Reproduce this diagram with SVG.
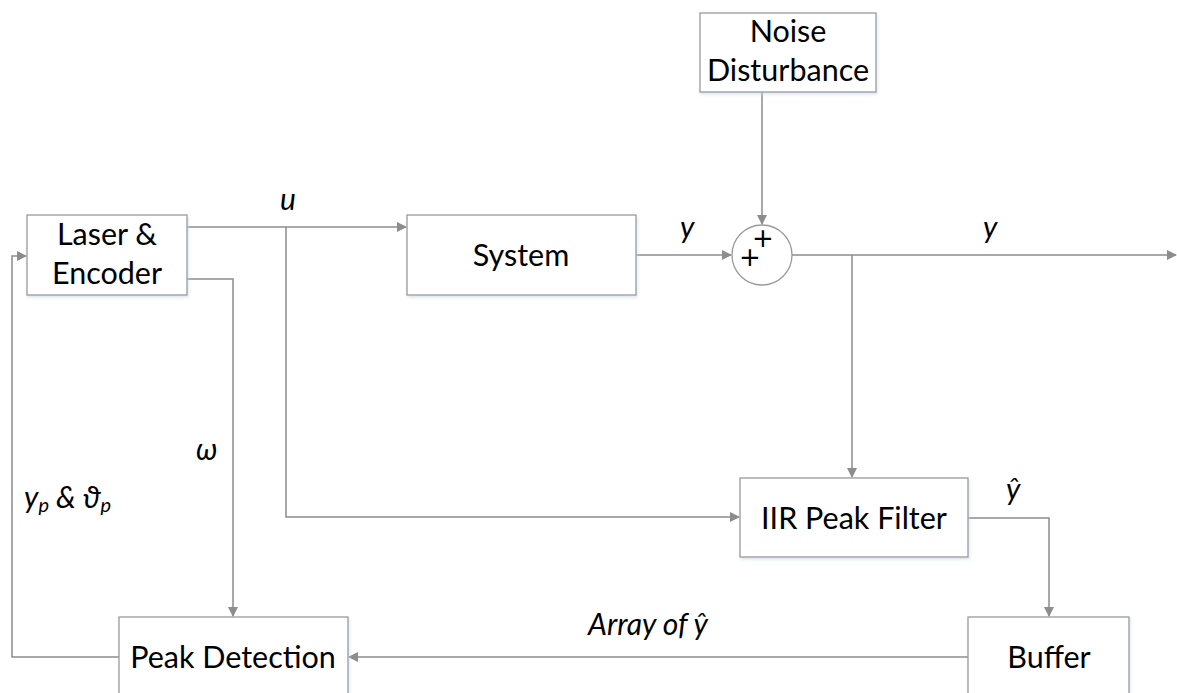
<svg xmlns="http://www.w3.org/2000/svg" width="1177" height="693" viewBox="0 0 1177 693">
  <style>
    .box { fill: #ffffff; stroke: #9a9a9a; stroke-width: 1.3; }
    .wire { fill: none; stroke: #8c8c8c; stroke-width: 1.5; }
    .lbl { font-family: Lato, "Open Sans", sans-serif; font-size: 30.5px; fill: #000; text-anchor: middle; }
    .sig { font-family: Lato, "Open Sans", sans-serif; font-size: 30px; font-style: italic; fill: #000; }
    .sub { font-size: 20px; }
    .plus { font-family: "DejaVu Sans", sans-serif; font-size: 26px; fill: #000; text-anchor: middle; }
  </style>
  <defs>
    <marker id="arr" markerWidth="10" markerHeight="10" refX="9" refY="5" orient="auto" markerUnits="userSpaceOnUse">
      <path d="M0,0 L10,5 L0,10 Z" fill="#8c8c8c"/>
    </marker>
    <filter id="shadow" x="-5%" y="-5%" width="110%" height="120%">
      <feDropShadow dx="1" dy="2" stdDeviation="1.5" flood-color="#c8d4e8" flood-opacity="0.6"/>
    </filter>
  </defs>

  <g id="connectors">
    <!-- laser -> system (u) -->
    <path class="wire" d="M187,227 H406" marker-end="url(#arr)"/>
    <!-- u branch -> IIR filter -->
    <path class="wire" d="M286,227 V517 H739" marker-end="url(#arr)"/>
    <!-- system -> summing junction -->
    <path class="wire" d="M636,255 H731" marker-end="url(#arr)"/>
    <!-- noise -> summing junction -->
    <path class="wire" d="M762,92 V224" marker-end="url(#arr)"/>
    <!-- junction -> output -->
    <path class="wire" d="M792,255 H1176" marker-end="url(#arr)"/>
    <!-- output branch -> IIR filter -->
    <path class="wire" d="M852,255 V477" marker-end="url(#arr)"/>
    <!-- IIR filter -> buffer -->
    <path class="wire" d="M968,518 H1049 V616" marker-end="url(#arr)"/>
    <!-- buffer -> peak detection -->
    <path class="wire" d="M968,657 H349" marker-end="url(#arr)"/>
    <!-- encoder omega -> peak detection -->
    <path class="wire" d="M187,279 H233 V616" marker-end="url(#arr)"/>
    <!-- peak detection feedback -> laser -->
    <path class="wire" d="M119,657 H12 V256 H26" marker-end="url(#arr)"/>
  </g>

  <g id="laser-encoder">
    <rect class="box" x="27" y="215" width="160" height="80" filter="url(#shadow)"/>
    <text class="lbl" x="107" y="245">Laser &amp;</text>
    <text class="lbl" x="107" y="284">Encoder</text>
  </g>

  <g id="system">
    <rect class="box" x="407" y="215" width="229" height="80" filter="url(#shadow)"/>
    <text class="lbl" x="521" y="266">System</text>
  </g>

  <g id="noise-disturbance">
    <rect class="box" x="700" y="13" width="176" height="79" filter="url(#shadow)"/>
    <text class="lbl" x="788" y="42">Noise</text>
    <text class="lbl" x="788" y="81">Disturbance</text>
  </g>

  <g id="summing-junction">
    <circle cx="762" cy="255" r="30" fill="#ffffff" stroke="#9a9a9a" stroke-width="1.3"/>
    <text class="plus"><tspan x="763" y="247">+</tspan><tspan x="750" y="266">+</tspan></text>
  </g>

  <g id="iir-peak-filter">
    <rect class="box" x="740" y="478" width="228" height="79" filter="url(#shadow)"/>
    <text class="lbl" x="854" y="529">IIR Peak Filter</text>
  </g>

  <g id="buffer">
    <rect class="box" x="968" y="617" width="161" height="90" filter="url(#shadow)"/>
    <text class="lbl" x="1049" y="668">Buffer</text>
  </g>

  <g id="peak-detection">
    <rect class="box" x="119" y="617" width="229" height="90" filter="url(#shadow)"/>
    <text class="lbl" x="233" y="668">Peak Detection</text>
  </g>

  <g id="signal-labels">
    <text class="sig" x="280" y="210">u</text>
    <text class="sig" x="680" y="238">y</text>
    <text class="sig" x="983" y="238">y</text>
    <text class="sig" x="196" y="460">ω</text>
    <text class="sig" x="24" y="508">y<tspan class="sub" dy="4">p</tspan><tspan dy="-4"> &amp; ϑ</tspan><tspan class="sub" dy="4">p</tspan></text>
    <text class="sig" x="1006" y="500">ŷ</text>
    <text class="sig" x="588" y="635">Array of ŷ</text>
  </g>
</svg>
